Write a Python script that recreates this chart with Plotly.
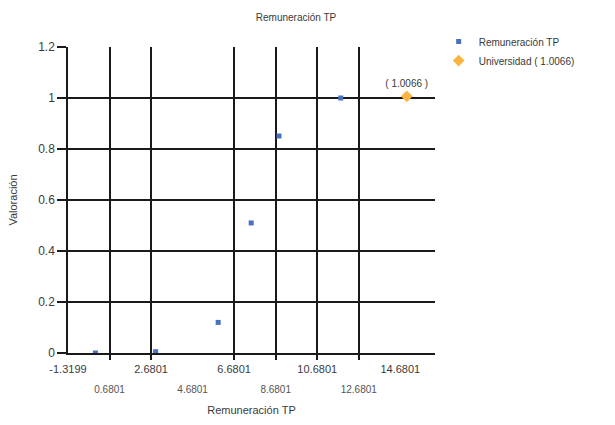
import plotly.graph_objects as go

# ---- data ----
remun_x = [0.0, 2.9, 5.91, 7.5, 8.84, 11.81]
remun_y = [0.0, 0.005, 0.12, 0.51, 0.851, 1.0]
univ_x = [14.99]
univ_y = [1.0066]
univ_label = ["( 1.0066 )"]

x_range = [-1.3199, 16.35]
y_range = [0, 1.2]
grid_x = [0.6801, 2.6801, 6.6801, 8.6801, 10.6801, 12.6801]
row1_vals = [-1.3199, 2.6801, 6.6801, 10.6801, 14.6801]
row1_text = ["-1.3199", "2.6801", "6.6801", "10.6801", "14.6801"]
row2_vals = [0.6801, 4.6801, 8.6801, 12.6801]
row2_text = ["0.6801", "4.6801", "8.6801", "12.6801"]
y_ticks = [0, 0.2, 0.4, 0.6, 0.8, 1, 1.2]
y_ticktext = ["0", "0.2", "0.4", "0.6", "0.8", "1", "1.2"]

FONT = "Liberation Sans"
TXT = "#3a3a3a"

fig = go.Figure()
fig.add_trace(go.Scatter(
    x=remun_x, y=remun_y, mode="markers", name="Remuneración TP",
    marker=dict(symbol="square", size=5, color="#4A70C0"),
))
fig.add_trace(go.Scatter(
    x=univ_x, y=univ_y, mode="markers+text", name="Universidad ( 1.0066)",
    text=univ_label, textposition="top center",
    textfont=dict(family=FONT, size=10, color=TXT),
    marker=dict(symbol="diamond", size=9, color="#FCB441"),
))
# empty traces to register the label axes
fig.add_trace(go.Scatter(x=[None], y=[None], xaxis="x2", showlegend=False, hoverinfo="skip"))
fig.add_trace(go.Scatter(x=[None], y=[None], xaxis="x3", showlegend=False, hoverinfo="skip"))

fig.update_layout(
    width=615, height=425,
    margin=dict(l=68, r=180, t=47, b=72),
    paper_bgcolor="white", plot_bgcolor="white",
    font=dict(family=FONT, size=11, color=TXT),
    title=dict(text="Remuneración TP", x=296/615, xanchor="center", y=1-17/425, yanchor="middle",
               font=dict(family=FONT, size=10, color=TXT)),
    xaxis=dict(range=x_range, tickvals=grid_x, showticklabels=False,
               showgrid=True, gridcolor="#1a1a1a", gridwidth=1.5,
               ticks="outside", ticklen=5, tickcolor="#1a1a1a", tickwidth=1.5,
               showline=True, linecolor="#1a1a1a", linewidth=1.5, zeroline=False,
               title=dict(text="Remuneración TP", font=dict(family=FONT, size=11, color=TXT), standoff=48)),
    xaxis2=dict(range=x_range, overlaying="x", side="bottom", anchor="y",
                tickvals=row1_vals, ticktext=row1_text, showgrid=False, zeroline=False,
                ticks="", ticklabelstandoff=8, tickfont=dict(family=FONT, size=11, color=TXT)),
    xaxis3=dict(range=x_range, overlaying="x", side="bottom", anchor="y",
                tickvals=row2_vals, ticktext=row2_text, showgrid=False, zeroline=False,
                ticks="", ticklabelstandoff=29, tickfont=dict(family=FONT, size=10, color="#555555")),
    yaxis=dict(range=y_range, tickvals=y_ticks, ticktext=y_ticktext,
               showgrid=True, gridcolor="#1a1a1a", gridwidth=1.5,
               ticks="outside", ticklen=9, tickcolor="#1a1a1a", tickwidth=1.5,
               showline=True, linecolor="#1a1a1a", linewidth=1.5, zeroline=False,
               tickfont=dict(family=FONT, size=12, color=TXT),
               title=dict(text="Valoración", font=dict(family=FONT, size=11, color=TXT), standoff=18)),
    legend=dict(x=1.01, y=1.065, xanchor="left", yanchor="top",
                font=dict(family=FONT, size=10, color=TXT), bgcolor="rgba(0,0,0,0)",
                tracegroupgap=0),
    showlegend=True,
)

fig.write_html("out.html", config={"displayModeBar": False},
               post_script="document.body.style.margin='0';")
